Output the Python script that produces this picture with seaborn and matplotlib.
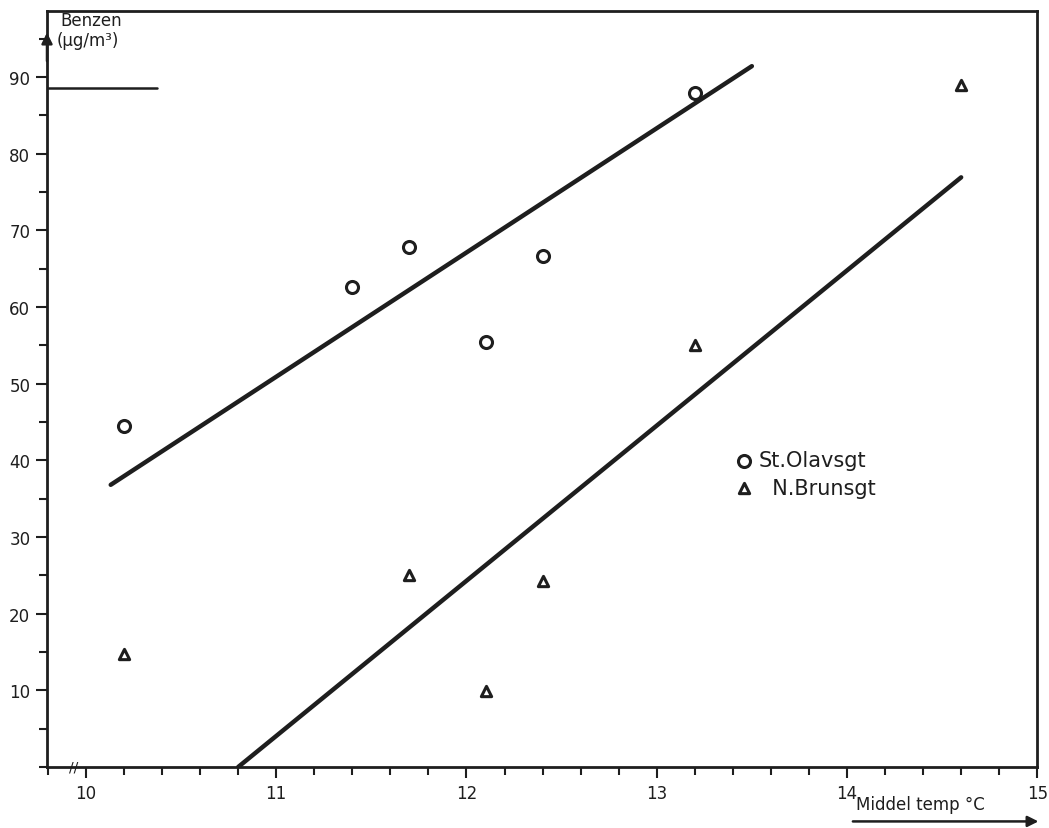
import numpy as np
import pandas as pd
import matplotlib
matplotlib.use("Agg")
import matplotlib.pyplot as plt
from matplotlib.ticker import MultipleLocator
import seaborn as sns

# ---- data ----
olav_temp = [10.2, 11.4, 11.7, 12.1, 12.4, 13.2]
olav_benzen = [44.5, 62.6, 67.8, 55.4, 66.6, 87.9]
brun_temp = [10.2, 11.7, 12.1, 12.4, 13.2, 14.6]
brun_benzen = [14.7, 25.0, 9.9, 24.2, 55.0, 88.9]

# fitted lines (end points)
olav_fit_temp = [10.13, 13.50]
olav_fit_benzen = [36.8, 91.4]
brun_fit_temp = [10.80, 14.60]
brun_fit_benzen = [0.0, 76.9]

series_labels = ["St.Olavsgt", "N.Brunsgt"]
x_ticks = [10, 11, 12, 13, 14, 15]
y_ticks = [10, 20, 30, 40, 50, 60, 70, 80, 90]

sns.set_theme(style="white")
plt.rcParams['font.family'] = ['Liberation Sans Narrow', 'DejaVu Sans']

ink = "#1e1e1e"

pts = pd.DataFrame({
    "temp": olav_temp + brun_temp,
    "benzen": olav_benzen + brun_benzen,
    "site": [series_labels[0]] * len(olav_temp) + [series_labels[1]] * len(brun_temp),
})
fits = pd.DataFrame({
    "temp": olav_fit_temp + brun_fit_temp,
    "benzen": olav_fit_benzen + brun_fit_benzen,
    "site": [series_labels[0]] * 2 + [series_labels[1]] * 2,
})

fig = plt.figure(figsize=(10.49, 8.29), dpi=100)
ax = fig.add_axes([0.0448, 0.0736, 0.944, 0.912])

sns.lineplot(data=fits, x="temp", y="benzen", units="site", estimator=None,
             color=ink, linewidth=3.2, ax=ax, legend=False)

olav = pts[pts.site == series_labels[0]]
brun = pts[pts.site == series_labels[1]]
sns.scatterplot(data=olav, x="temp", y="benzen", marker="o", s=75,
                facecolor="white", edgecolor=ink, linewidth=2.2, ax=ax,
                label=series_labels[0], zorder=5)
sns.scatterplot(data=brun, x="temp", y="benzen", marker="^", s=55,
                facecolor="white", edgecolor=ink, linewidth=2.2, ax=ax,
                label="  " + series_labels[1], zorder=5)

ax.set_xlim(9.795, 15.0)
ax.set_ylim(0, 98.6)
ax.set_xticks(x_ticks)
ax.set_yticks(y_ticks)
ax.xaxis.set_minor_locator(MultipleLocator(0.2))
ax.yaxis.set_minor_locator(MultipleLocator(5))
ax.tick_params(axis="both", which="major", direction="out", length=8, width=1.5,
               color=ink, labelcolor=ink, labelsize=12, pad=4,
               bottom=True, left=True)
ax.tick_params(axis="both", which="minor", direction="out", length=6, width=1.5,
               color=ink, bottom=True, left=True)
ax.set_xlabel("")
ax.set_ylabel("")

for sp in ax.spines.values():
    sp.set_visible(True)
    sp.set_color(ink)
    sp.set_linewidth(2.0)

# legend
leg = ax.legend(loc="upper left", bbox_to_anchor=(0.685, 0.43), frameon=False,
                fontsize=15, handletextpad=0.2, labelspacing=0.35,
                handlelength=1.0, borderaxespad=0)
for t in leg.get_texts():
    t.set_color(ink)

# y-axis label with underline and arrow
ax.text(0.014, 0.988, "Benzen", transform=ax.transAxes, fontsize=12,
        color=ink, va="center", ha="left")
ax.text(0.010, 0.962, "(µg/m³)", transform=ax.transAxes, fontsize=12,
        color=ink, va="center", ha="left")
ax.plot([0.001, 0.111], [0.898, 0.898], transform=ax.transAxes, color=ink,
        lw=1.8, clip_on=False)
ax.annotate("", xy=(0.0, 0.975), xytext=(0.0, 0.93), xycoords="axes fraction",
            arrowprops=dict(arrowstyle="-|>", color=ink, lw=1.8,
                            mutation_scale=16))

# x-axis label with underline arrow
ax.text(0.882, -0.049, "Middel temp °C", transform=ax.transAxes, fontsize=12,
        color=ink, va="center", ha="center")
ax.annotate("", xy=(1.004, -0.072), xytext=(0.811, -0.072),
            xycoords="axes fraction",
            arrowprops=dict(arrowstyle="-|>", color=ink, lw=1.8,
                            mutation_scale=16))

# axis break mark
ax.text(0.027, 0.0, "//", transform=ax.transAxes, fontsize=10, color=ink,
        ha="center", va="center", rotation=0)

fig.savefig("out.png", dpi=100, facecolor="white")
